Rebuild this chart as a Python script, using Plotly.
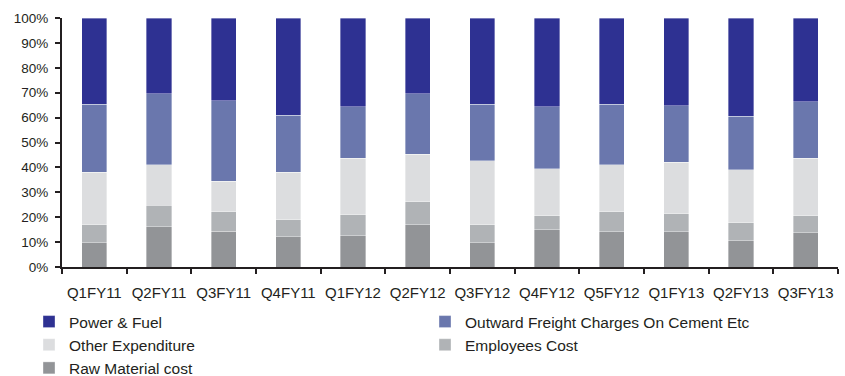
import plotly.graph_objects as go

categories = ["Q1FY11", "Q2FY11", "Q3FY11", "Q4FY11", "Q1FY12", "Q2FY12",
              "Q3FY12", "Q4FY12", "Q5FY12", "Q1FY13", "Q2FY13", "Q3FY13"]

raw_material = [9.8, 16.1, 14.3, 12.2, 12.6, 17.0, 9.8, 14.9, 14.2, 14.2, 10.6, 13.8]
employees = [7.1, 8.8, 7.8, 6.8, 8.3, 9.2, 7.1, 5.6, 7.9, 7.1, 7.2, 6.7]
other_exp = [21.1, 16.2, 12.3, 19.0, 22.7, 19.1, 25.7, 19.0, 19.0, 20.7, 21.2, 23.1]
freight = [27.3, 28.4, 32.4, 23.0, 20.7, 24.2, 22.7, 24.8, 24.2, 22.7, 21.6, 22.7]
power_fuel = [34.7, 30.5, 33.2, 39.0, 35.7, 30.5, 34.7, 35.7, 34.7, 35.3, 39.4, 33.7]

series = [
    ("Raw Material cost", raw_material, "#929497"),
    ("Employees Cost", employees, "#B0B3B6"),
    ("Other Expenditure", other_exp, "#DCDDDF"),
    ("Outward Freight Charges On Cement Etc", freight, "#6A77AD"),
    ("Power & Fuel", power_fuel, "#2E3192"),
]
legend_rank = {"Power & Fuel": 1, "Outward Freight Charges On Cement Etc": 2,
               "Other Expenditure": 3, "Employees Cost": 4, "Raw Material cost": 5}

fig = go.Figure()
for name, vals, col in series:
    fig.add_trace(go.Bar(
        x=categories, y=vals, name=name,
        marker=dict(color=col, line=dict(color="rgba(255,255,255,0.6)", width=0.6)),
        legendrank=legend_rank[name],
    ))

fig.update_layout(
    barmode="stack",
    bargap=0.61,
    width=845, height=376,
    margin=dict(l=62, r=7, t=18, b=109, autoexpand=False),
    paper_bgcolor="white", plot_bgcolor="white",
    font=dict(family="Liberation Sans, Arial, sans-serif", size=13, color="#231F20"),
    showlegend=True,
    legend=dict(
        orientation="h", xref="paper", yref="paper",
        x=-0.0425, y=-0.1526, xanchor="left", yanchor="top",
        entrywidth=351, entrywidthmode="pixels",
        traceorder="normal", font=dict(size=15.5, color="#231F20"),
        itemwidth=30, tracegroupgap=0,
    ),
)
fig.update_yaxes(
    range=[0, 100], dtick=10, ticksuffix="%",
    showgrid=False, zeroline=False,
    showline=True, linecolor="#231F20", linewidth=2,
    ticks="outside", ticklen=5, tickcolor="#231F20", tickwidth=2,
    ticklabelstandoff=4,
    tickfont=dict(size=13.5),
)
fig.update_xaxes(
    showgrid=False, showline=True, linecolor="#231F20", linewidth=2,
    ticks="outside", ticklen=5, tickcolor="#231F20", tickwidth=2,
    tickson="boundaries", ticklabelstandoff=11, tickangle=0,
    tickfont=dict(size=15),
)

fig.write_html("out.html")
